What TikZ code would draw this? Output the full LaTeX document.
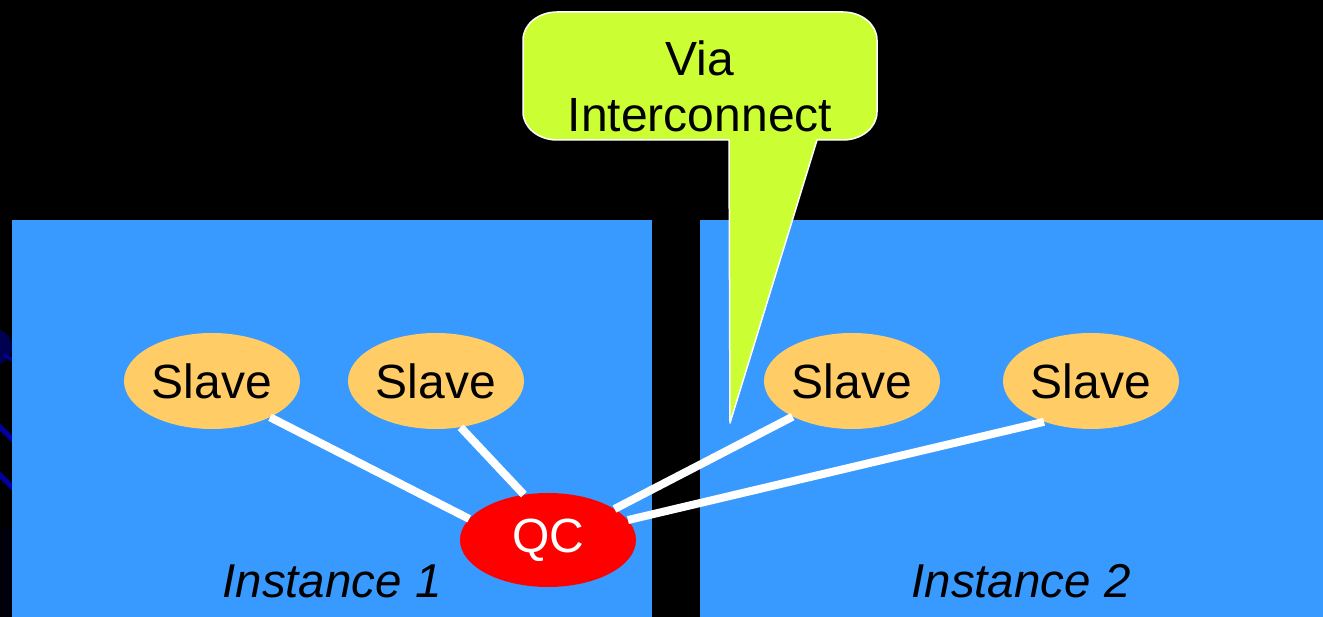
\documentclass[tikz,border=0pt]{standalone}
\usepackage{fontspec}
\setmainfont{Liberation Sans}
\usetikzlibrary{shapes.geometric}
\definecolor{panel}{HTML}{3899FF}
\definecolor{slavefill}{HTML}{FFCC66}
\definecolor{qcred}{HTML}{FF0000}
\definecolor{calloutfill}{HTML}{CCFF33}
\definecolor{deco}{HTML}{0000A0}
\definecolor{decodark}{HTML}{000050}
\tikzset{
  bigfont/.style={font=\fontsize{48}{56}\selectfont},
  slave/.style={ellipse, fill=slavefill, minimum width=176pt, minimum height=96pt, inner sep=0pt, bigfont, text=black},
  qcnode/.style={ellipse, fill=qcred, minimum width=176pt, minimum height=94pt, inner sep=0pt, bigfont, text=white},
  link/.style={draw=white, line width=8pt},
  panelbox/.style={fill=panel},
  instlabel/.style={font=\fontsize{47.5}{56}\selectfont\itshape, text=black, inner sep=0pt, anchor=base},
}
\begin{document}
\begin{tikzpicture}[x=1pt,y=1pt]
\useasboundingbox (0,0) rectangle (1323,617);
\fill[black] (0,0) rectangle (1323,617);
% left edge decorations (partially hidden background art)
\begin{scope}
\clip (0,0) rectangle (12,617);
\fill[decodark] (-6,270) circle (18);
\draw[deco, line width=5pt] (-10,200) -- (14,176);
\draw[deco, line width=5pt] (-10,152) -- (14,128);
\draw[deco, line width=3pt] (4,262) -- (14,256);
\fill[black!85!decodark] (0,0) rectangle (12,90);
\end{scope}
% panels
\fill[panelbox] (12,0) rectangle (652,397);
\fill[panelbox] (700,0) rectangle (1323,397);
% callout
\draw[fill=calloutfill, draw=white, line width=1.5pt, line join=round]
  (729,477) -- (730,194) -- (817,477) -- (843,477)
  arc[start angle=-90, end angle=0, x radius=34, y radius=28] -- (877,577)
  arc[start angle=0, end angle=90, x radius=34, y radius=28] -- (557,605)
  arc[start angle=90, end angle=180, x radius=34, y radius=28] -- (523,505)
  arc[start angle=180, end angle=270, x radius=34, y radius=28] -- cycle;
\node[bigfont, align=center, inner sep=0pt, text=black] (callouttext) at (700,530.2) {Via\\Interconnect};
% nodes
\node[slave] (s1) at (212,236) {Slave};
\node[slave] (s2) at (436,236) {Slave};
\node[slave] (s3) at (852,236) {Slave};
\node[slave] (s4) at (1091,236) {Slave};
\node[qcnode] (qc) at (548,77) {QC};
% links
\draw[link] (s1.-32.5) -- (qc.165);
\draw[link] (s2.-62) -- (qc.118);
\draw[link] (s3.211.5) -- (qc.25);
\draw[link] (s4.221) -- (qc.14.4);
% labels
\node[instlabel] (inst1) at (332,19) {Instance 1};
\node[instlabel] (inst2) at (1021,19) {Instance 2};
\end{tikzpicture}
\end{document}
